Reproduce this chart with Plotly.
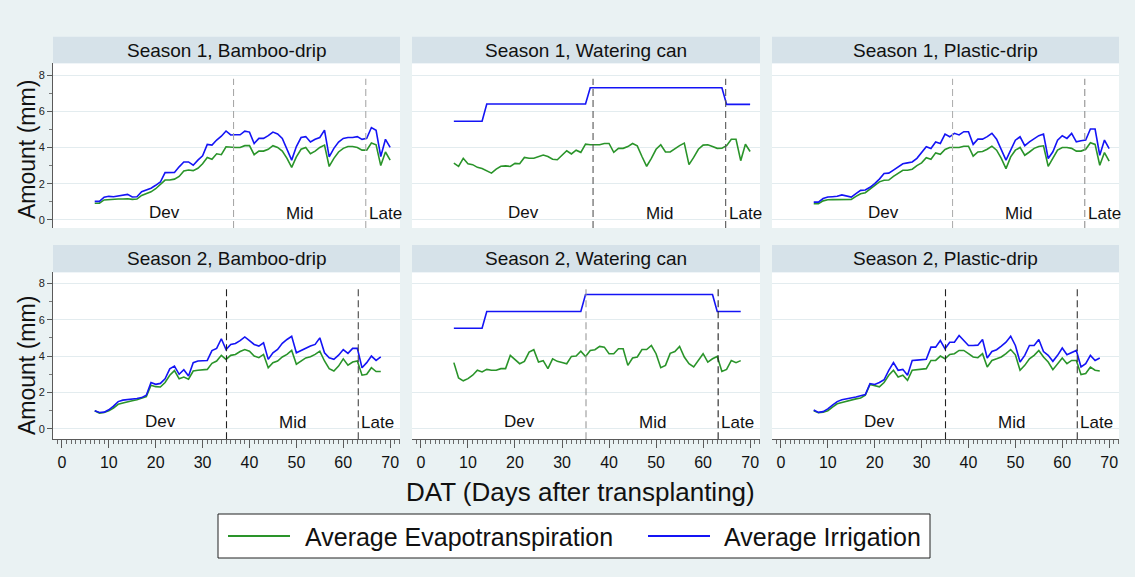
import plotly.graph_objects as go

# ---------------- data ----------------
days_s1 = list(range(7, 71))   # Season 1: DAT 7..70
days_s2 = list(range(7, 69))   # Season 2: DAT 7..68

s1_bamboo_et = [0.92, 0.92, 1.10, 1.13, 1.13, 1.15, 1.15, 1.17, 1.13, 1.15,
                1.35, 1.45, 1.55, 1.72, 1.95, 2.20, 2.20, 2.25, 2.40, 2.70,
                2.75, 2.72, 2.85, 3.10, 3.45, 3.35, 3.65, 3.60, 4.04, 4.00,
                4.00, 4.00, 4.10, 4.10, 3.60, 3.80, 3.80, 3.90, 4.10, 4.00,
                3.80, 3.40, 2.90, 3.48, 3.90, 4.00, 3.65, 3.80, 4.00, 4.13,
                2.95, 3.40, 3.75, 3.95, 4.05, 4.05, 4.00, 3.85, 3.85, 4.25,
                4.15, 3.00, 3.75, 3.30]
s1_bamboo_irr = [1.02, 1.02, 1.25, 1.30, 1.28, 1.32, 1.34, 1.41, 1.26, 1.28,
                 1.55, 1.65, 1.75, 1.91, 2.09, 2.61, 2.61, 2.62, 2.93, 3.20,
                 3.20, 3.02, 3.30, 3.54, 4.17, 4.13, 4.41, 4.62, 4.91, 4.69,
                 4.70, 4.70, 4.90, 4.85, 4.22, 4.50, 4.50, 4.65, 4.85, 4.75,
                 4.50, 3.90, 3.30, 4.05, 4.55, 4.60, 4.30, 4.45, 4.55, 4.96,
                 3.48, 3.95, 4.30, 4.50, 4.55, 4.55, 4.60, 4.45, 4.50, 5.10,
                 4.95, 3.50, 4.45, 4.00]
s1_wc_et = [3.13, 2.95, 3.40, 3.10, 3.05, 2.90, 2.84, 2.72, 2.58, 2.80,
            2.96, 2.98, 2.95, 3.12, 3.10, 3.45, 3.40, 3.40, 3.48, 3.58,
            3.50, 3.35, 3.32, 3.55, 3.82, 3.64, 3.85, 3.73, 4.18, 4.15,
            4.15, 4.15, 4.22, 4.22, 3.73, 3.95, 3.95, 4.05, 4.22, 4.09,
            3.50, 2.96, 3.40, 3.90, 4.15, 3.75, 3.75, 3.95, 4.10, 4.24,
            3.05, 3.45, 3.90, 4.13, 4.15, 4.05, 3.95, 3.96, 4.10, 4.45,
            4.45, 3.27, 4.18, 3.78]
s1_wc_irr = [5.45, 5.45, 5.45, 5.45, 5.45, 5.45, 5.45,
             6.40, 6.40, 6.40, 6.40, 6.40, 6.40, 6.40, 6.40, 6.40, 6.40, 6.40,
             6.40, 6.40, 6.40, 6.40, 6.40, 6.40, 6.40, 6.40, 6.40, 6.40, 6.40,
             7.30, 7.30, 7.30, 7.30, 7.30, 7.30, 7.30, 7.30, 7.30, 7.30, 7.30,
             7.30, 7.30, 7.30, 7.30, 7.30, 7.30, 7.30, 7.30, 7.30, 7.30, 7.30,
             7.30, 7.30, 7.30, 7.30, 7.30, 7.30, 7.30,
             6.38, 6.38, 6.38, 6.38, 6.38, 6.38]
s1_plastic_et = [0.89, 0.89, 1.05, 1.11, 1.12, 1.12, 1.13, 1.15, 1.13, 1.30,
                 1.44, 1.50, 1.70, 1.95, 2.10, 2.19, 2.20, 2.40, 2.55, 2.74,
                 2.74, 2.80, 3.00, 3.15, 3.43, 3.35, 3.70, 3.62, 3.89, 4.00,
                 4.00, 4.00, 4.07, 4.07, 3.52, 3.75, 3.78, 3.90, 4.07, 3.85,
                 3.40, 2.83, 3.48, 3.85, 4.00, 3.57, 3.75, 3.95, 4.05, 4.09,
                 2.96, 3.39, 3.85, 4.00, 4.00, 3.95, 3.80, 3.80, 3.90, 4.26,
                 4.17, 3.02, 3.72, 3.24]
s1_plastic_irr = [0.98, 0.98, 1.18, 1.26, 1.28, 1.30, 1.38, 1.33, 1.26, 1.45,
                  1.63, 1.65, 1.80, 2.00, 2.25, 2.56, 2.58, 2.75, 2.95, 3.10,
                  3.15, 3.20, 3.40, 3.75, 4.04, 3.94, 4.30, 4.22, 4.74, 4.59,
                  4.78, 4.69, 4.87, 4.87, 4.17, 4.46, 4.46, 4.60, 4.78, 4.46,
                  3.85, 3.30, 3.85, 4.40, 4.59, 4.10, 4.31, 4.50, 4.65, 4.74,
                  3.39, 3.76, 4.40, 4.65, 4.50, 4.78, 4.31, 4.37, 4.41, 5.02,
                  5.02, 3.57, 4.41, 3.94]

s2_bamboo_et = [1.00, 0.87, 0.90, 1.00, 1.15, 1.35, 1.42, 1.50, 1.55, 1.60,
                1.68, 1.78, 2.40, 2.32, 2.30, 2.55, 2.95, 3.20, 2.75, 2.85,
                2.73, 3.18, 3.22, 3.25, 3.27, 3.60, 3.73, 4.04, 3.82, 4.04,
                4.09, 4.25, 4.36, 4.27, 4.00, 3.91, 4.09, 3.36, 3.64, 3.73,
                3.95, 4.09, 4.31, 3.55, 3.73, 3.90, 3.96, 4.09, 4.27, 3.73,
                3.31, 3.18, 3.45, 3.85, 3.50, 3.67, 3.73, 2.95, 3.00, 3.36,
                3.15, 3.15]
s2_bamboo_irr = [1.00, 0.90, 0.92, 1.05, 1.25, 1.50, 1.58, 1.60, 1.62, 1.67,
                 1.72, 1.85, 2.55, 2.45, 2.50, 2.75, 3.30, 3.45, 3.00, 3.25,
                 2.91, 3.64, 3.73, 3.74, 3.76, 4.30, 4.42, 4.95, 4.36, 4.64,
                 4.69, 4.85, 5.05, 4.85, 4.64, 4.55, 4.73, 3.82, 4.18, 4.36,
                 4.70, 4.91, 5.09, 4.18, 4.30, 4.45, 4.55, 4.64, 5.00, 4.18,
                 3.91, 3.82, 4.05, 4.36, 4.15, 4.42, 4.42, 3.36, 3.64, 4.00,
                 3.76, 3.95]
s2_wc_et = [3.64, 2.80, 2.64, 2.76, 2.95, 3.22, 3.13, 3.27, 3.22, 3.22,
            3.31, 3.31, 4.04, 3.82, 3.58, 3.71, 4.22, 4.35, 3.67, 3.75,
            3.31, 3.85, 3.71, 3.65, 3.58, 3.98, 4.00, 4.27, 3.98, 4.31,
            4.35, 4.53, 4.49, 4.13, 4.13, 4.40, 4.40, 3.49, 3.89, 3.95,
            4.36, 4.36, 4.58, 4.13, 3.36, 3.49, 4.15, 4.25, 4.53, 3.95,
            3.58, 3.40, 3.76, 4.13, 3.67, 3.85, 3.98, 3.16, 3.27, 3.76,
            3.64, 3.75]
s2_wc_irr = [5.53, 5.53, 5.53, 5.53, 5.53, 5.53, 5.53,
             6.45, 6.45, 6.45, 6.45, 6.45, 6.45, 6.45, 6.45, 6.45, 6.45, 6.45,
             6.45, 6.45, 6.45, 6.45, 6.45, 6.45, 6.45, 6.45, 6.45, 6.45,
             7.38, 7.38, 7.38, 7.38, 7.38, 7.38, 7.38, 7.38, 7.38, 7.38, 7.38,
             7.38, 7.38, 7.38, 7.38, 7.38, 7.38, 7.38, 7.38, 7.38, 7.38, 7.38,
             7.38, 7.38, 7.38, 7.38, 7.38, 7.38,
             6.45, 6.45, 6.45, 6.45, 6.45, 6.45]
s2_plastic_et = [1.00, 0.89, 0.92, 1.00, 1.20, 1.38, 1.45, 1.53, 1.60, 1.65,
                 1.70, 1.85, 2.44, 2.38, 2.31, 2.55, 2.95, 3.22, 2.85, 2.95,
                 2.67, 3.22, 3.25, 3.28, 3.31, 3.76, 3.76, 4.00, 3.85, 4.09,
                 4.13, 4.31, 4.31, 4.13, 3.95, 3.91, 4.13, 3.40, 3.76, 3.85,
                 3.95, 4.13, 4.36, 4.07, 3.22, 3.49, 3.85, 4.04, 4.31, 3.95,
                 3.67, 3.25, 3.58, 3.89, 3.58, 3.76, 3.76, 2.98, 3.04, 3.40,
                 3.22, 3.18]
s2_plastic_irr = [1.04, 0.91, 0.95, 1.10, 1.30, 1.50, 1.60, 1.64, 1.68, 1.75,
                  1.82, 1.89, 2.49, 2.44, 2.55, 2.70, 3.22, 3.64, 3.22, 3.27,
                  2.95, 3.76, 3.78, 3.80, 3.82, 4.49, 4.49, 4.85, 4.40, 4.76,
                  4.76, 5.13, 4.85, 4.58, 4.58, 4.60, 4.91, 3.89, 4.25, 4.35,
                  4.55, 4.76, 5.09, 4.58, 3.67, 4.04, 4.58, 4.58, 4.91, 4.25,
                  4.04, 3.71, 4.04, 4.44, 4.07, 4.18, 4.31, 3.40, 3.58, 4.04,
                  3.76, 3.89]

# crop-stage boundaries (DAT) and stage names
s1_stage_bounds = [36.6, 64.8]
s2_stage_bounds = [35.1, 63.2]
stage_names = ["Dev", "Mid", "Late"]

panel_titles = ["Season 1, Bamboo-drip", "Season 1, Watering can", "Season 1, Plastic-drip",
                "Season 2, Bamboo-drip", "Season 2, Watering can", "Season 2, Plastic-drip"]
x_ticks = [0, 10, 20, 30, 40, 50, 60, 70]
y_ticks = [0, 2, 4, 6, 8]
series_names = ["Average Evapotranspiration", "Average Irrigation"]

panels = [
    (days_s1, s1_bamboo_et, s1_bamboo_irr, s1_stage_bounds),
    (days_s1, s1_wc_et, s1_wc_irr, s1_stage_bounds),
    (days_s1, s1_plastic_et, s1_plastic_irr, s1_stage_bounds),
    (days_s2, s2_bamboo_et, s2_bamboo_irr, s2_stage_bounds),
    (days_s2, s2_wc_et, s2_wc_irr, s2_stage_bounds),
    (days_s2, s2_plastic_et, s2_plastic_irr, s2_stage_bounds),
]
# dashed-line colours per panel (first, second boundary)
vline_colors = [("#a8a8a8", "#a8a8a8"), ("#555555", "#555555"), ("#b0b0b0", "#909090"),
                ("#222222", "#444444"), ("#999999", "#222222"), ("#222222", "#333333")]

# ---------------- layout geometry ----------------
W, H = 1135, 577
GREEN = "#2a942a"
BLUE = "#1414f5"
BG = "#eaf2f3"
HEAD = "#d6e2e9"
GRID = "#e3ecef"
FONT = "Liberation Sans, Arial, sans-serif"

col_px = [(53, 400), (412, 760), (772, 1119)]
row_px = [(63.3, 228.0), (272.3, 439.3)]          # plot area top / bottom (px from top)
head_px = [(36.7, 63.3), (245.0, 272.3)]
y_ranges = [[-0.45, 8.65], [-0.57, 8.6]]
x_range = [-1.9, 72.1]


def px_x(v):
    return v / W


def px_y(v):
    return 1 - v / H


fig = go.Figure()
shapes = []
annotations = []

for i, (days, et, irr, bounds) in enumerate(panels):
    r, c = divmod(i, 3)
    k = i + 1
    xa = "x" if k == 1 else f"x{k}"
    ya = "y" if k == 1 else f"y{k}"
    fig.add_trace(go.Scatter(x=days, y=et, mode="lines", name=series_names[0],
                             line=dict(color=GREEN, width=1.6), showlegend=False,
                             xaxis=xa, yaxis=ya))
    fig.add_trace(go.Scatter(x=days, y=irr, mode="lines", name=series_names[1],
                             line=dict(color=BLUE, width=1.6), showlegend=False,
                             xaxis=xa, yaxis=ya))

    x0p, x1p = col_px[c]
    t_px, b_px = row_px[r]
    xkey = "xaxis" if k == 1 else f"xaxis{k}"
    ykey = "yaxis" if k == 1 else f"yaxis{k}"
    bottom = (r == 1)
    left = (c == 0)
    fig.layout[xkey] = dict(
        domain=[px_x(x0p), px_x(x1p)], range=x_range, anchor=ya,
        showgrid=False, zeroline=False,
        showline=bottom, linecolor="#5a5a5a", linewidth=1,
        ticks="outside" if bottom else "", ticklen=8, tickcolor="#5a5a5a",
        tickvals=x_ticks, showticklabels=bottom,
        tickfont=dict(family=FONT, size=16, color="#111111"),
        minor=dict(ticks="outside" if bottom else "", dtick=1, tick0=0, ticklen=4,
                   tickcolor="#6a6a6a", showgrid=False),
    )
    fig.layout[ykey] = dict(
        domain=[px_y(b_px), px_y(t_px)], range=y_ranges[r], anchor=xa,
        showgrid=True, gridcolor=GRID, gridwidth=1, zeroline=False,
        tickvals=y_ticks, showticklabels=left,
        showline=left, linecolor="#5a5a5a", linewidth=1,
        ticks="outside" if left else "", ticklen=5, tickcolor="#5a5a5a",
        tickfont=dict(family=FONT, size=11, color="#222222"),
        minor=dict(ticks="outside" if left else "", dtick=1, tick0=0, ticklen=3,
                   tickcolor="#7a7a7a", showgrid=False),
    )

    # header strip
    h0, h1 = head_px[r]
    shapes.append(dict(type="rect", xref="paper", yref="paper",
                       x0=px_x(x0p), x1=px_x(x1p), y0=px_y(h1), y1=px_y(h0),
                       fillcolor=HEAD, line=dict(width=0), layer="below"))
    annotations.append(dict(xref="paper", yref="paper", x=px_x((x0p + x1p) / 2),
                            y=px_y((h0 + h1) / 2), text=panel_titles[i], showarrow=False,
                            xanchor="center", yanchor="middle",
                            font=dict(family=FONT, size=19, color="#111111")))

    # stage boundaries
    for j, b in enumerate(bounds):
        shapes.append(dict(type="line", xref=xa, yref=ya, x0=b, x1=b,
                           y0=y_ranges[r][0], y1=7.8,
                           line=dict(color=vline_colors[i][j], width=1.1, dash="7px,4px")))
    # stage labels
    label_y = 0.42
    annotations.append(dict(xref=xa, yref=ya, x=(days[0] + bounds[0]) / 2, y=label_y,
                            text=stage_names[0], showarrow=False, xanchor="center",
                            yanchor="middle", font=dict(family=FONT, size=17, color="#111111")))
    annotations.append(dict(xref=xa, yref=ya, x=(bounds[0] + bounds[1]) / 2, y=label_y - 0.05,
                            text=stage_names[1], showarrow=False, xanchor="center",
                            yanchor="middle", font=dict(family=FONT, size=17, color="#111111")))
    annotations.append(dict(xref=xa, yref=ya, x=bounds[1] + 0.2, y=label_y - 0.05,
                            text=stage_names[2], showarrow=False, xanchor="left",
                            yanchor="middle", font=dict(family=FONT, size=17, color="#111111")))

# y axis titles
for cy in (150, 366):
    annotations.append(dict(xref="paper", yref="paper", x=px_x(27), y=px_y(cy),
                            text="Amount (mm)", showarrow=False, textangle=-90,
                            xanchor="center", yanchor="middle",
                            font=dict(family=FONT, size=23, color="#111111")))
# x axis title
annotations.append(dict(xref="paper", yref="paper", x=px_x(580), y=px_y(492),
                        text="DAT (Days after transplanting)", showarrow=False,
                        xanchor="center", yanchor="middle",
                        font=dict(family=FONT, size=26, color="#111111")))

# legend box (drawn manually to match)
shapes.append(dict(type="rect", xref="paper", yref="paper",
                   x0=px_x(218), x1=px_x(930), y0=px_y(558), y1=px_y(514),
                   fillcolor="white", line=dict(color="#222222", width=1)))
leg_items = [(series_names[0], GREEN, 228, 290, 303), (series_names[1], BLUE, 648, 710, 722)]
for name, col, l0, l1, tx in leg_items:
    shapes.append(dict(type="line", xref="paper", yref="paper",
                       x0=px_x(l0), x1=px_x(l1), y0=px_y(536), y1=px_y(536),
                       line=dict(color=col, width=2)))
    annotations.append(dict(xref="paper", yref="paper", x=px_x(tx), y=px_y(537),
                            text=name, showarrow=False, xanchor="left", yanchor="middle",
                            font=dict(family=FONT, size=25, color="#111111")))

fig.update_layout(
    width=W, height=H, margin=dict(l=0, r=0, t=0, b=0),
    paper_bgcolor=BG, plot_bgcolor="white",
    showlegend=False, shapes=shapes, annotations=annotations,
    font=dict(family=FONT),
)

fig.write_html("out.html")
